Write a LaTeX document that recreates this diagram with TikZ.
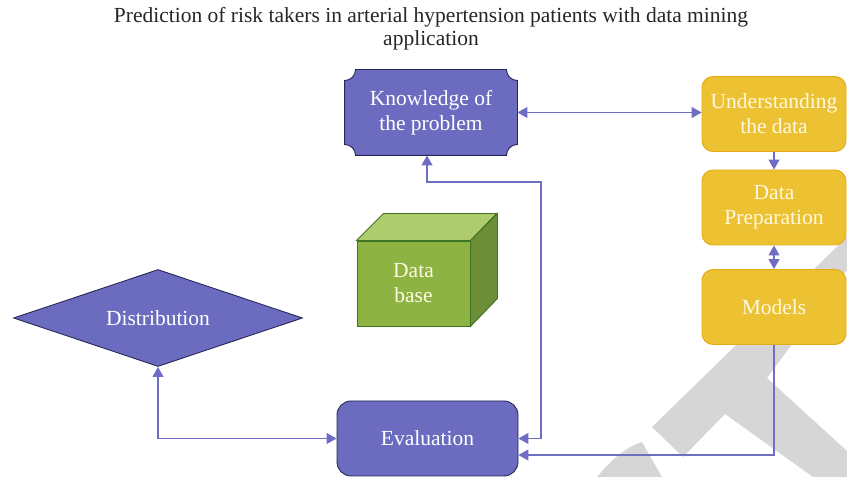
\documentclass[tikz,border=0pt]{standalone}
\usepackage{fontspec}
\setmainfont{Liberation Serif}
\usetikzlibrary{arrows.meta,shapes.geometric,backgrounds}
\definecolor{kpurple}{RGB}{107,107,191}
\definecolor{knavy}{RGB}{40,40,90}
\definecolor{kline}{RGB}{110,110,196}
\definecolor{kgold}{RGB}{237,194,50}
\definecolor{kgoldline}{RGB}{230,170,20}
\definecolor{kcream}{RGB}{255,248,225}
\definecolor{kgreen}{RGB}{141,180,67}
\definecolor{kgreentop}{RGB}{174,203,110}
\definecolor{kgreenside}{RGB}{109,142,54}
\definecolor{kgreenline}{RGB}{63,116,36}
\definecolor{kmark}{RGB}{214,214,214}
\begin{document}
\begin{tikzpicture}[x=1pt,y=1pt,
  box/.style={font=\fontsize{21.5}{25}\selectfont, align=center, inner sep=0pt, line width=0.9pt},
  purplebox/.style={box, fill=kpurple, draw=knavy, text=white, rounded corners=14pt,
    minimum width=181pt, minimum height=75pt},
  goldbox/.style={box, fill=kgold, draw=kgoldline, text=kcream, rounded corners=11pt,
    minimum width=144pt, minimum height=75pt},
  conn/.style={draw=kline, line width=1.1pt},
  arr/.style={conn, -{Triangle[length=10pt,width=11pt]}},
  both/.style={conn, {Triangle[length=10pt,width=11pt]}-{Triangle[length=10pt,width=11pt]}}]
\useasboundingbox (0,0) rectangle (847,477);

\begin{scope}[on background layer]
\fill[kmark] (847,240) -- (652,50) -- (683,20) -- (725,63) -- (813,0) -- (847,0)
  -- (847,26) -- (767,99) -- (847,207) -- cycle;
\fill[kmark] (597,0) .. controls (612,18) and (626,30) .. (642,35) -- (662,0) -- cycle;
\end{scope}

\node[font=\fontsize{21.5}{23}\selectfont, align=center, text=black!85] (title) at (431,448)
  {Prediction of risk takers in arterial hypertension patients with data mining\\application};

\node[box, text=white, minimum width=172pt, minimum height=85pt] (kn) at (431,364.5) {Knowledge of\\the problem};
\begin{scope}[on background layer]
\path[fill=kpurple, draw=knavy, line width=0.9pt]
  ([xshift=11pt]kn.north west) -- ([xshift=-11pt]kn.north east)
  arc[start angle=180, end angle=270, radius=11pt]
  -- ([yshift=11pt]kn.south east) arc[start angle=90, end angle=180, radius=11pt]
  -- ([xshift=11pt]kn.south west) arc[start angle=0, end angle=90, radius=11pt]
  -- ([yshift=-11pt]kn.north west) arc[start angle=270, end angle=360, radius=11pt]
  -- cycle;
\end{scope}

\node[goldbox] (un) at (774,363) {Understanding\\the data};
\node[goldbox] (dp) at (774,269.5) {Data\\Preparation};
\node[goldbox] (mo) at (774,170) {Models};

\node[box, fill=kgreen, draw=kgreenline, text=kcream, minimum width=113pt, minimum height=85pt] (db) at (413.5,193.5) {Data\\base};
\draw[fill=kgreentop, draw=kgreenline, line width=0.9pt] (db.north west) -- ++(27,27) -- ++(113,0) -- (db.north east) -- cycle;
\draw[fill=kgreenside, draw=kgreenline, line width=0.9pt] (db.north east) -- ++(27,27) -- ++(0,-85) -- (db.south east) -- cycle;

\node[box, diamond, aspect=3, fill=kpurple, draw=knavy, text=white, minimum width=289pt, minimum height=97pt] (di) at (158,159) {Distribution};

\node[purplebox] (ev) at (427.5,38.5) {Evaluation};

\coordinate (bend) at (541,295);
\draw[both] (kn.east) -- (kn.east -| un.west);
\draw[arr] (un.south) -- (dp.north);
\draw[both] (dp.south) -- (mo.north);
\draw[arr] (mo.south) |- ([yshift=-16.5pt]ev.east);
\draw[both] (ev.east) -| (bend) -| ([xshift=-4pt]kn.south);
\draw[both] (di.south) |- (ev.west);
\end{tikzpicture}
\end{document}
